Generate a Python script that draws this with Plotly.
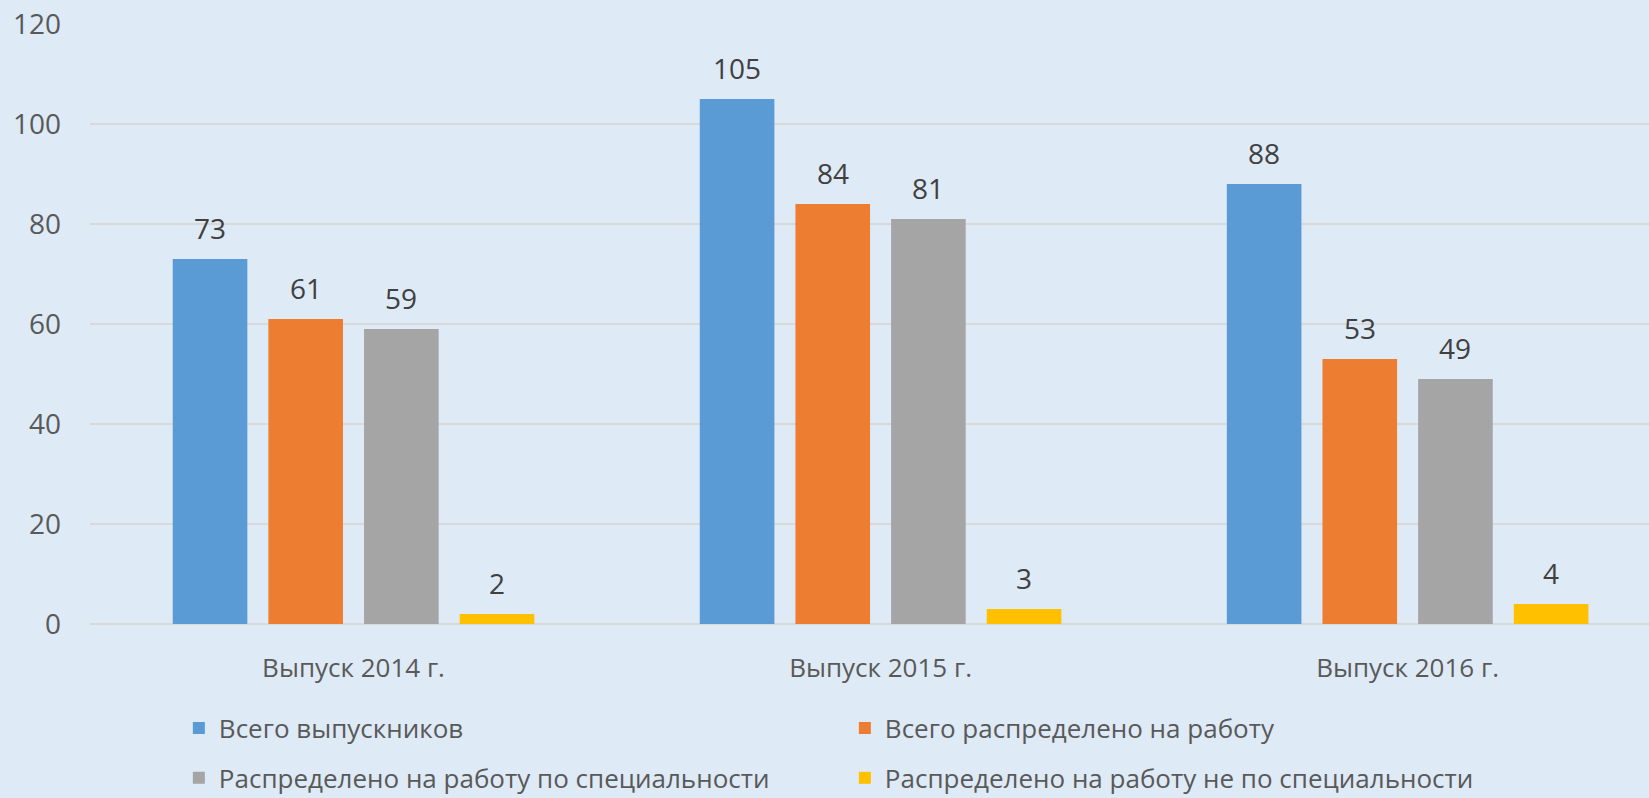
import plotly.graph_objects as go

categories = ["Выпуск 2014 г.", "Выпуск 2015 г.", "Выпуск 2016 г."]
series_names = [
    "Всего выпускников",
    "Всего распределено на работу",
    "Распределено на работу по специальности",
    "Распределено на работу не по специальности",
]
vsego_vypusknikov = [73, 105, 88]
vsego_raspredeleno = [61, 84, 53]
po_specialnosti = [59, 81, 49]
ne_po_specialnosti = [2, 3, 4]
y_ticks = [0, 20, 40, 60, 80, 100, 120]

series_values = [vsego_vypusknikov, vsego_raspredeleno, po_specialnosti, ne_po_specialnosti]
colors = ["#5B9BD5", "#ED7D31", "#A5A5A5", "#FFC000"]

BG = "#DEEAF6"
FONT = "Open Sans, Noto Sans, sans-serif"
BARGAP = 0.274

fig = go.Figure()
for name, vals, col in zip(series_names, series_values, colors):
    fig.add_trace(go.Bar(
        name=name, x=categories, y=vals,
        marker=dict(color=col, line=dict(width=0)),
        legend="legend" if name in (series_names[0], series_names[1]) else "legend2",
        hoverinfo="x+y+name",
    ))

# data labels above bars
slot = (1 - BARGAP) / len(series_values)
for si, vals in enumerate(series_values):
    off = (si - (len(series_values) - 1) / 2) * slot
    for ci, v in enumerate(vals):
        fig.add_annotation(
            x=ci + off, y=v, xref="x", yref="y",
            text=str(v), showarrow=False,
            yanchor="bottom", yshift=10,
            font=dict(family=FONT, size=28, color="#404040"),
        )

leg_common = dict(
    orientation="h", x=0.057, xanchor="left", yanchor="middle",
    entrywidth=621, entrywidthmode="pixels",
    font=dict(family=FONT, size=26, color="#595959"),
    bgcolor="rgba(0,0,0,0)", traceorder="normal",
)

fig.update_layout(
    width=1649, height=798,
    margin=dict(l=90, r=0, t=24, b=174, autoexpand=False),
    paper_bgcolor=BG, plot_bgcolor=BG,
    barmode="group", bargap=BARGAP, bargroupgap=0.22,
    font=dict(family=FONT, color="#595959"),
    showlegend=True,
    legend=dict(y=-0.1737, **leg_common),
    legend2=dict(y=-0.2565, **leg_common),
    xaxis=dict(
        type="category", range=[-0.5, 2.458],
        showgrid=False, showline=False, ticks="",
        tickfont=dict(family=FONT, size=26, color="#595959"),
        ticklabelstandoff=26,
    ),
    yaxis=dict(
        range=[0, 120], tickvals=y_ticks,
        showgrid=True, gridcolor="#D9D9D9", gridwidth=2,
        zeroline=True, zerolinecolor="#D9D9D9", zerolinewidth=2,
        showline=False, ticks="",
        tickfont=dict(family=FONT, size=28, color="#595959"),
        ticklabelstandoff=28,
    ),
)

fig.write_html(
    "out.html",
    config={"displayModeBar": False},
    post_script="document.body.style.margin='0';document.body.style.padding='0';"
                "document.body.style.overflow='hidden';",
)
